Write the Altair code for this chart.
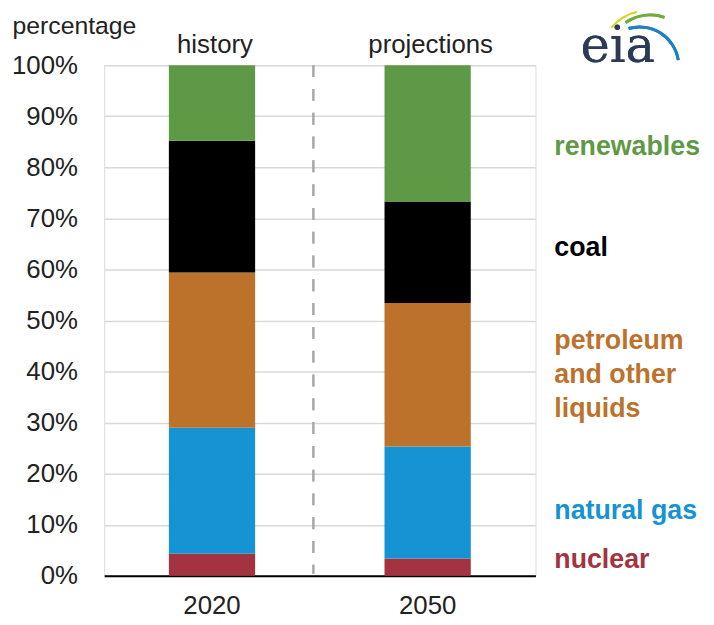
import altair as alt
import pandas as pd

years = ["2020", "2050"]
categories = ["nuclear", "natural gas", "petroleum and other liquids", "coal", "renewables"]
colors = ["#a33341", "#1693d2", "#bd722c", "#000000", "#5e9a46"]
share_2020 = [4.3, 24.7, 30.4, 25.8, 14.8]
share_2050 = [3.4, 21.9, 28.1, 19.9, 26.7]
headers = ["history", "projections"]

label_lines = ["renewables", "coal", "petroleum", "and other", "liquids", "natural gas", "nuclear"]
label_cats = ["renewables", "coal", "petroleum and other liquids", "petroleum and other liquids",
              "petroleum and other liquids", "natural gas", "nuclear"]
label_pos = [84.0, 64.2, 46.0, 39.4, 32.7, 12.7, 3.1]

rows = []
for yr, vals in zip(years, [share_2020, share_2050]):
    for i, (c, v) in enumerate(zip(categories, vals)):
        rows.append({"year": yr, "category": c, "value": v, "ord": i})
df = pd.DataFrame(rows)
labels_df = pd.DataFrame({"text": label_lines, "category": label_cats, "pos": label_pos})
head_df = pd.DataFrame({"year": years, "text": headers})

FONT = "Liberation Sans"
FS = 26

color_scale = alt.Scale(domain=categories, range=colors)
x_enc = alt.X("year:N", title=None,
              scale=alt.Scale(paddingInner=0.6, paddingOuter=0.3),
              axis=alt.Axis(labelAngle=0, labelFontSize=FS, labelColor="#222222", ticks=False,
                            domainColor="#000000", domainWidth=2, labelPadding=17, labelFont=FONT))

bars = alt.Chart(df).mark_bar().encode(
    x=x_enc,
    y=alt.Y("value:Q", stack="zero", title="percentage",
            scale=alt.Scale(domain=[0, 100], nice=False),
            axis=alt.Axis(values=list(range(0, 101, 10)), labelExpr="datum.value + '%'",
                          labelFontSize=FS, labelColor="#222222", labelFont=FONT,
                          ticks=False, domain=False, labelPadding=27,
                          gridColor="#d9d9d9", gridWidth=1.5,
                          titleAngle=0, titleAlign="left", titleBaseline="middle",
                          titleX=-93, titleY=-40, titleFontSize=FS - 1, titleFontWeight="normal",
                          titleColor="#222222", titleFont=FONT)),
    color=alt.Color("category:N", scale=color_scale, legend=None),
    order=alt.Order("ord:Q"),
)

side = alt.Chart(labels_df).mark_text(align="left", baseline="middle", fontSize=27,
                                      fontWeight="bold", font=FONT, clip=False).encode(
    x=alt.value(454),
    y=alt.Y("pos:Q"),
    text="text:N",
    color=alt.Color("category:N", scale=color_scale, legend=None),
)

head = alt.Chart(head_df).mark_text(baseline="middle", fontSize=FS, font=FONT,
                                    color="#222222", dx=3).encode(
    x="year:N",
    y=alt.value(-20),
    text="text:N",
)

divider = alt.Chart(head_df).mark_rule(color="#a6a6a6", strokeWidth=2, strokeDash=[12, 12]).encode(
    x=alt.value(211), y=alt.value(0), y2=alt.value(513),
)

logo_text = alt.Chart(head_df).mark_text(text="eia", font="DejaVu Serif", fontSize=50,
                                         color="#2b3a55", baseline="middle", align="center").encode(
    x=alt.value(518), y=alt.value(-18),
)
arc_yellow = alt.Chart(head_df).mark_arc(color="#d7d52b", radius=46, radius2=48,
                                         theta=5.4, theta2=6.05).encode(
    x=alt.value(548), y=alt.value(-8))
arc_green = alt.Chart(head_df).mark_arc(color="#6fae3e", radius=44, radius2=47,
                                        theta=5.7, theta2=6.6).encode(
    x=alt.value(551), y=alt.value(-5))
arc_blue = alt.Chart(head_df).mark_arc(color="#1f7fc4", radius=38, radius2=41,
                                       theta=6.0, theta2=7.7).encode(
    x=alt.value(540), y=alt.value(1))

chart = alt.layer(divider, bars, side, head, logo_text, arc_yellow, arc_green, arc_blue).properties(
    width=435, height=515,
    autosize=alt.AutoSizeParams(type="none"),
    padding={"left": 97, "top": 55, "right": 172, "bottom": 45},
).configure_view(stroke=None).configure(font=FONT)

chart.save("out.html", embed_options={"renderer": "svg", "actions": False})
